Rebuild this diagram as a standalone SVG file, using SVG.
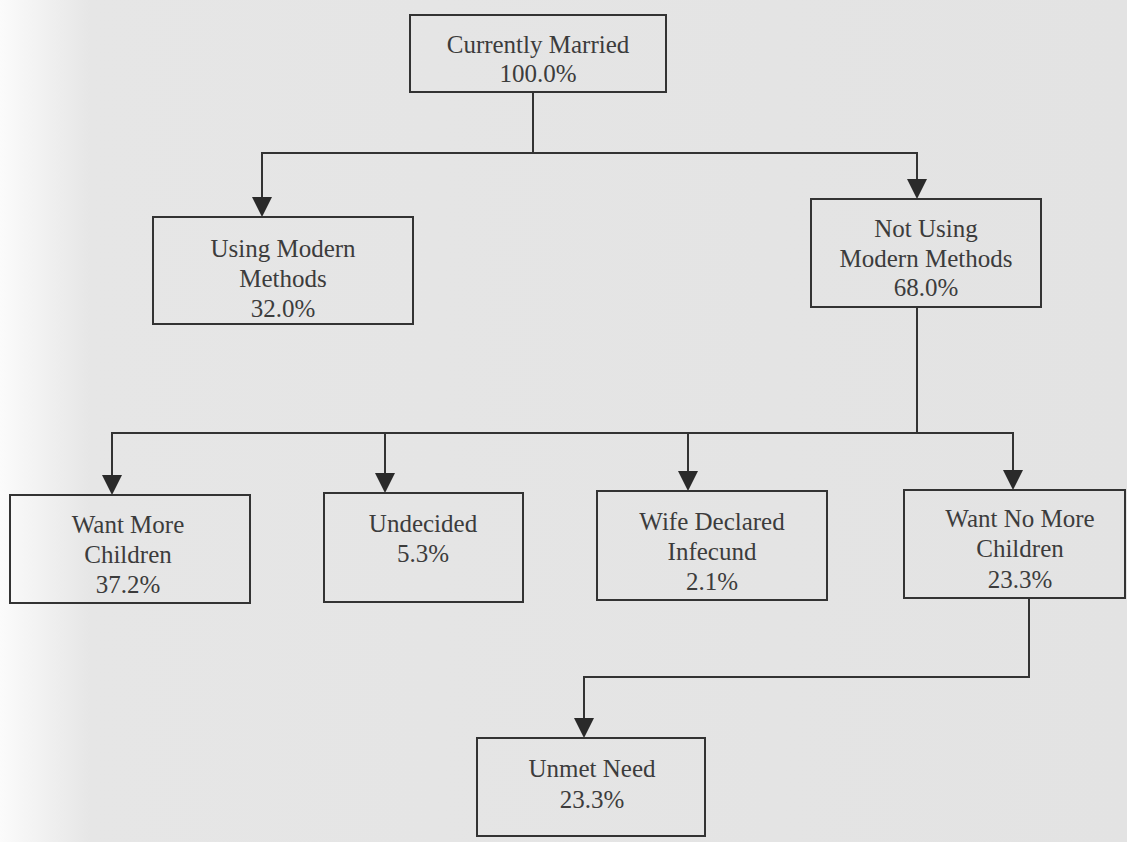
<svg xmlns="http://www.w3.org/2000/svg" width="1127" height="842" viewBox="0 0 1127 842">
<defs>
<linearGradient id="bg" x1="0" y1="0" x2="1" y2="0">
<stop offset="0" stop-color="#fbfbfb"/>
<stop offset="0.08" stop-color="#e6e6e6"/>
<stop offset="1" stop-color="#e3e3e3"/>
</linearGradient>
<style>
.box{fill:none;stroke:#333;stroke-width:2}
.t{font-family:'Liberation Serif',serif;font-size:25px;fill:#3c3c3c;text-anchor:middle}
.c{fill:none;stroke:#333;stroke-width:2}
.a{fill:#2a2a2a}
</style>
</defs>
<rect x="0" y="0" width="1127" height="842" fill="url(#bg)"/>
<g id="connectors">
<path class="c" d="M533,92 V153 H262 V197"/>
<path class="c" d="M533,153 H917 V179"/>
<path class="c" d="M917,307 V433 H112 V475"/>
<path class="c" d="M385,433 V473"/>
<path class="c" d="M688,433 V471"/>
<path class="c" d="M917,433 H1013 V470"/>
<path class="c" d="M1029,598 V677 H584 V718"/>
<path class="a" d="M252,197 L272,197 L262,217 Z"/>
<path class="a" d="M907,179 L927,179 L917,199 Z"/>
<path class="a" d="M102,475 L122,475 L112,495 Z"/>
<path class="a" d="M375,473 L395,473 L385,493 Z"/>
<path class="a" d="M678,471 L698,471 L688,491 Z"/>
<path class="a" d="M1003,470 L1023,470 L1013,490 Z"/>
<path class="a" d="M574,718 L594,718 L584,738 Z"/>
</g>
<g id="currently-married">
<rect class="box" x="410" y="15" width="256" height="77"/>
<text class="t" x="538" y="53">Currently Married</text>
<text class="t" x="538" y="82">100.0%</text>
</g>
<g id="using-modern">
<rect class="box" x="153" y="217" width="260" height="107"/>
<text class="t" x="283" y="257">Using Modern</text>
<text class="t" x="283" y="287">Methods</text>
<text class="t" x="283" y="317">32.0%</text>
</g>
<g id="not-using">
<rect class="box" x="811" y="199" width="230" height="108"/>
<text class="t" x="926" y="237">Not Using</text>
<text class="t" x="926" y="267">Modern Methods</text>
<text class="t" x="926" y="296">68.0%</text>
</g>
<g id="want-more">
<rect class="box" x="10" y="495" width="240" height="108"/>
<text class="t" x="128" y="533">Want More</text>
<text class="t" x="128" y="563">Children</text>
<text class="t" x="128" y="593">37.2%</text>
</g>
<g id="undecided">
<rect class="box" x="324" y="493" width="199" height="109"/>
<text class="t" x="423" y="532">Undecided</text>
<text class="t" x="423" y="562">5.3%</text>
</g>
<g id="wife-infecund">
<rect class="box" x="597" y="491" width="230" height="109"/>
<text class="t" x="712" y="530">Wife Declared</text>
<text class="t" x="712" y="560">Infecund</text>
<text class="t" x="712" y="590">2.1%</text>
</g>
<g id="want-no-more">
<rect class="box" x="904" y="490" width="221" height="108"/>
<text class="t" x="1020" y="527">Want No More</text>
<text class="t" x="1020" y="557">Children</text>
<text class="t" x="1020" y="588">23.3%</text>
</g>
<g id="unmet-need">
<rect class="box" x="477" y="738" width="228" height="98"/>
<text class="t" x="592" y="777">Unmet Need</text>
<text class="t" x="592" y="808">23.3%</text>
</g>
</svg>
